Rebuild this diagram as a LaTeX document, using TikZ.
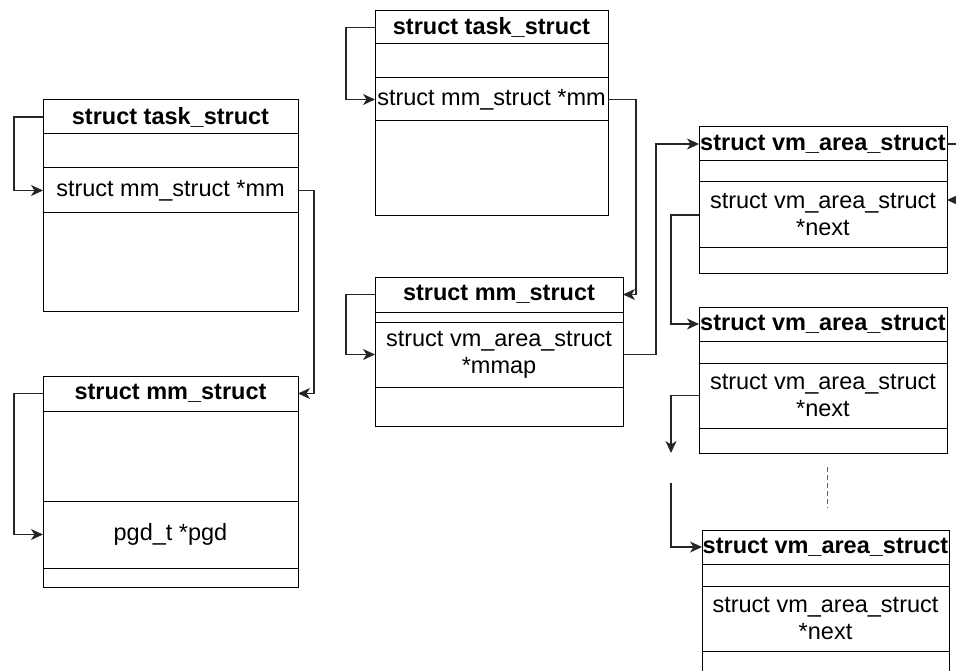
\documentclass[tikz,border=0pt]{standalone}
\usepackage{fontspec}
\setmainfont{Liberation Sans}
\usetikzlibrary{arrows.meta,calc}
\begin{document}
\begin{tikzpicture}[x=1pt,y=-1pt,
  cell/.style={draw=black, line width=1pt, inner sep=0pt, outer sep=0pt,
    anchor=north west, align=center, font=\fontsize{23.5}{27}\selectfont},
  head/.style={cell, font=\fontsize{23.5}{27}\selectfont\bfseries},
  conn/.style={draw=black!85, line width=1.1pt,
    -{Stealth[length=12pt,width=11pt,inset=3.5pt]}},
  wire/.style={draw=black!85, line width=1pt}]
\path[use as bounding box] (0,0) rectangle (956,671);
\clip (0,0) rectangle (956,671);

% task_struct (left)
\node[head, minimum width=255pt, minimum height=34pt] (a1) at (43,100) {struct task\_struct};
\node[cell, minimum width=255pt, minimum height=34pt] (a2) at (43,134) {};
\node[cell, minimum width=255pt, minimum height=45pt] (a3) at (43,168) {struct mm\_struct *mm};
\node[cell, minimum width=255pt, minimum height=98pt] (a4) at (43,213) {};

% mm_struct (left)
\node[head, minimum width=255pt, minimum height=35pt] (b1) at (43,376) {struct mm\_struct};
\node[cell, minimum width=255pt, minimum height=90pt] (b2) at (43,411) {};
\node[cell, minimum width=255pt, minimum height=67pt] (b3) at (43,501) {pgd\_t *pgd};
\node[cell, minimum width=255pt, minimum height=19pt] (b4) at (43,568) {};

% task_struct (middle)
\node[head, minimum width=233pt, minimum height=33pt] (c1) at (375,11) {struct task\_struct};
\node[cell, minimum width=233pt, minimum height=34pt] (c2) at (375,44) {};
\node[cell, minimum width=233pt, minimum height=43pt] (c3) at (375,78) {struct mm\_struct *mm};
\node[cell, minimum width=233pt, minimum height=95pt] (c4) at (375,121) {};

% mm_struct (middle)
\node[head, minimum width=248pt, minimum height=35pt] (d1) at (375,277) {struct mm\_struct};
\node[cell, minimum width=248pt, minimum height=10pt] (d2) at (375,312) {};
\node[cell, minimum width=248pt, minimum height=65pt] (d3) at (375,322) {struct vm\_area\_struct\\*mmap};
\node[cell, minimum width=248pt, minimum height=39pt] (d4) at (375,387) {};

% vm_area_struct chain
\node[head, minimum width=248pt, minimum height=34pt] (e1) at (699,127) {struct vm\_area\_struct};
\node[cell, minimum width=248pt, minimum height=21pt] (e2) at (699,161) {};
\node[cell, minimum width=248pt, minimum height=66pt] (e3) at (699,182) {struct vm\_area\_struct\\*next};
\node[cell, minimum width=248pt, minimum height=25pt] (e4) at (699,248) {};

\node[head, minimum width=248pt, minimum height=34pt] (f1) at (699,307) {struct vm\_area\_struct};
\node[cell, minimum width=248pt, minimum height=22pt] (f2) at (699,341) {};
\node[cell, minimum width=248pt, minimum height=65pt] (f3) at (699,363) {struct vm\_area\_struct\\*next};
\node[cell, minimum width=248pt, minimum height=25pt] (f4) at (699,428) {};

\node[head, minimum width=247pt, minimum height=34pt] (g1) at (702,530) {struct vm\_area\_struct};
\node[cell, minimum width=247pt, minimum height=22pt] (g2) at (702,564) {};
\node[cell, minimum width=247pt, minimum height=65pt] (g3) at (702,586) {struct vm\_area\_struct\\*next};
\node[cell, minimum width=247pt, minimum height=26pt] (g4) at (702,651) {};

% pointers
\draw[conn] (a1.west) -- ++(-29,0) |- (a3.west);
\draw[conn] (a3.east) -- ++(16,0) |- (b1.east);
\draw[conn] (b1.west) -- ++(-29,0) |- (b3.west);
\draw[conn] (c1.west) -- ++(-29,0) |- (c3.west);
\draw[conn] (c3.east) -- ++(28,0) |- (d1.east);
\draw[conn] (d1.west) -- ++(-29,0) |- (d3.west);
\draw[conn] (d3.east) -- ++(33,0) |- (e1.west);
\draw[conn] (e1.east) -- ++(20,0) |- ([yshift=15pt]e3.east);
\draw[conn] (e3.west) -- ++(-28,0) |- (f1.west);

% broken link to the rest of the list
\coordinate (brkA) at (671,453);
\coordinate (brkB) at (671,483);
\draw[conn] (f3.west) -| (brkA);
\draw[conn] (brkB) |- (g1.west);

\coordinate (dotsTop) at (827,467);
\coordinate (dotsBot) at (827,508);
\draw[wire, draw=black!60, dash pattern=on 5pt off 3pt] (dotsTop) -- (dotsBot);
\end{tikzpicture}
\end{document}
